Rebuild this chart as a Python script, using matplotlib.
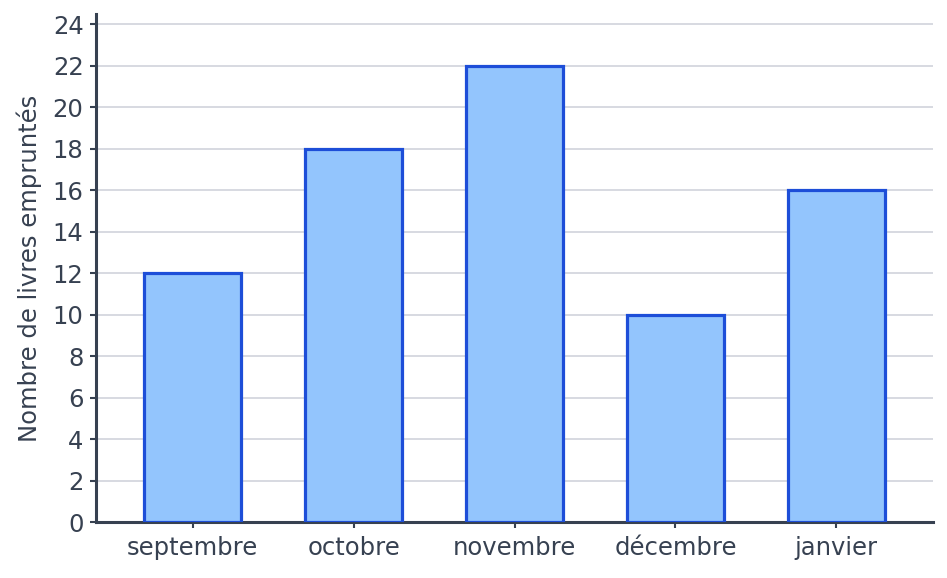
import matplotlib
matplotlib.use("Agg")
import matplotlib.pyplot as plt

months = ["septembre", "octobre", "novembre", "décembre", "janvier"]
livres = [12, 18, 22, 10, 16]
yticks = list(range(0, 25, 2))

text_color = "#374151"
fig = plt.figure(figsize=(9.47, 5.78), dpi=100)
ax = fig.add_axes([96/947, 56/578, (933-96)/947, (522-14)/578])

x = list(range(len(months)))
ax.bar(x, livres, width=0.6, color="#93c5fd", edgecolor="#1d4ed8", linewidth=2.3, zorder=3)

ax.set_xlim(-0.6, 4.6)
ax.set_ylim(0, 24.5)
ax.set_yticks(yticks)
ax.set_xticks(x)
ax.set_xticklabels(months)
ax.yaxis.grid(True, color="#d1d3dc", linewidth=1.2, zorder=0)
ax.set_axisbelow(True)

for s in ["top", "right"]:
    ax.spines[s].set_visible(False)
for s in ["left", "bottom"]:
    ax.spines[s].set_color(text_color)
    ax.spines[s].set_linewidth(2.2)

ax.tick_params(axis="both", colors=text_color, labelsize=17.5, length=4, width=1.5)
ax.tick_params(axis="x", pad=6)
ax.tick_params(axis="y", pad=5)
ax.set_ylabel("Nombre de livres empruntés", fontsize=17.5, color=text_color, labelpad=8)

fig.savefig("out.png", dpi=100)
